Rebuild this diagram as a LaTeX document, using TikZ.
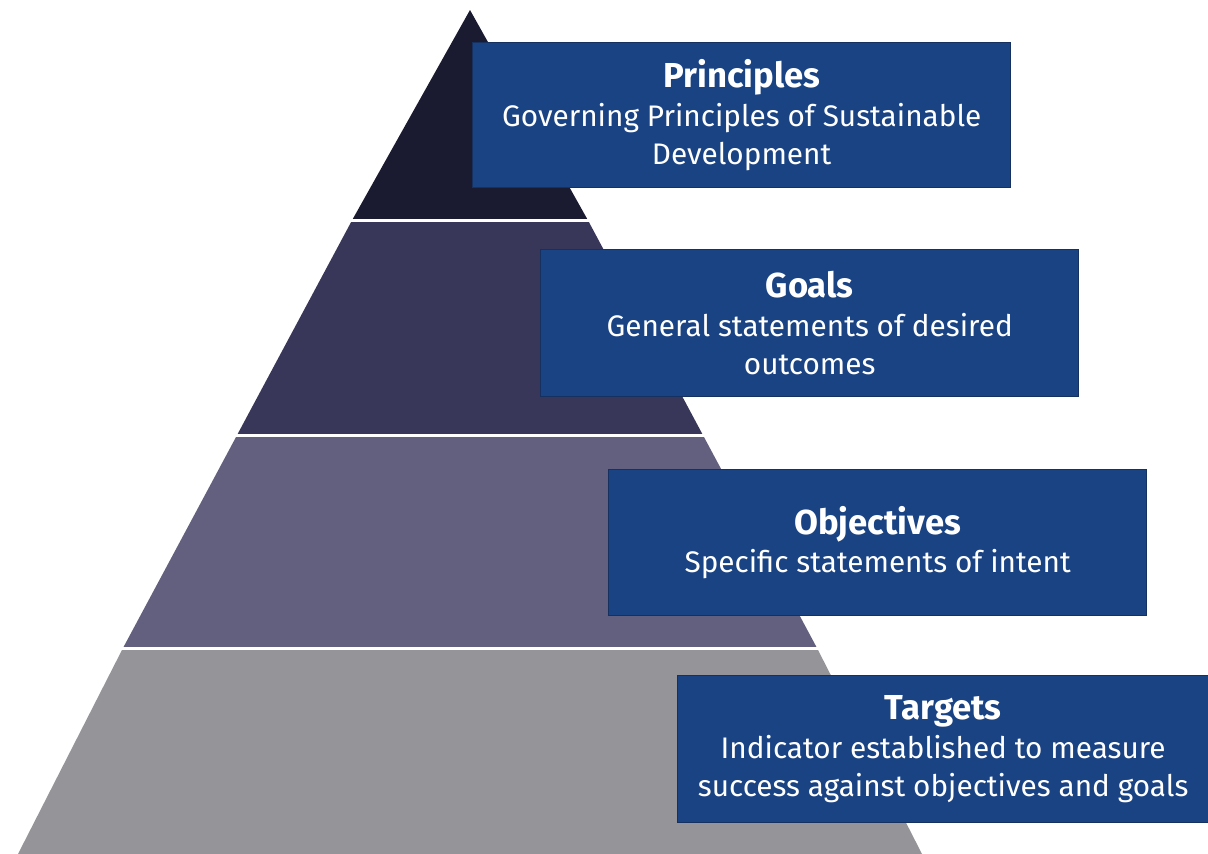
\documentclass[tikz,border=0pt]{standalone}
\usepackage{fontspec}
\setmainfont{Fira Sans}
\definecolor{tierA}{HTML}{1A1A30}
\definecolor{tierB}{HTML}{38375A}
\definecolor{tierC}{HTML}{62607E}
\definecolor{tierD}{HTML}{959499}
\definecolor{boxfill}{HTML}{1A4384}
\definecolor{boxline}{HTML}{16315F}
\newcommand{\boxtitle}[1]{{\fontsize{26}{29}\selectfont\bfseries #1}}
\begin{document}
\begin{tikzpicture}[x=0.75pt,y=-0.75pt,
  sep/.style={draw=white,line width=1.6pt},
  infobox/.style={draw=boxline,line width=1pt,fill=boxfill,text=white,
    align=center,font=\fontsize{22.3}{29}\selectfont,inner sep=0pt}]
\useasboundingbox (0,0) rectangle (1208,854);
% pyramid tiers (apex 470,10; base 18..922 at y=854)
\coordinate (apex) at (470,10);
\coordinate (bl) at (18,854);
\coordinate (br) at (922,854);
\fill[tierA] (apex) -- (352.2,220) -- (587.8,220) -- cycle;
\fill[tierB] (352.2,220) -- (237.1,435) -- (702.9,435) -- (587.8,220) -- cycle;
\fill[tierC] (237.1,435) -- (123.0,648) -- (817.0,648) -- (702.9,435) -- cycle;
\fill[tierD] (123.0,648) -- (bl) -- (br) -- (817.0,648) -- cycle;
% white separators between tiers
\draw[sep] (350,220.5) -- (590,220.5);
\draw[sep] (235,435.5) -- (705,435.5);
\draw[sep] (121,648.5) -- (819,648.5);
% labels
\node[infobox,minimum width=538*0.75pt,minimum height=145*0.75pt,anchor=north west] (principles) at (472,42)
  {\boxtitle{Principles}\\Governing Principles of Sustainable\\Development};
\node[infobox,minimum width=538*0.75pt,minimum height=147*0.75pt,anchor=north west] (goals) at (540,249)
  {\boxtitle{Goals}\\General statements of desired\\outcomes};
\node[infobox,minimum width=538*0.75pt,minimum height=146*0.75pt,anchor=north west] (objectives) at (608,469)
  {\boxtitle{Objectives}\\Specific statements of intent};
\node[infobox,minimum width=531*0.75pt,minimum height=147*0.75pt,anchor=north west] (targets) at (677,675)
  {\boxtitle{Targets}\\Indicator established to measure\\success against objectives and goals};
\end{tikzpicture}
\end{document}
